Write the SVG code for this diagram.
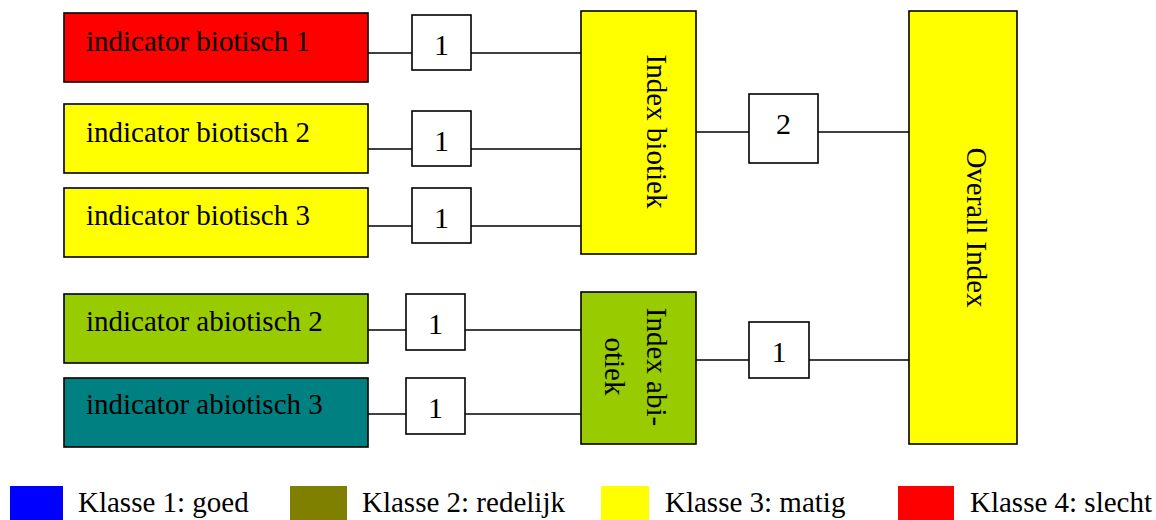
<svg xmlns="http://www.w3.org/2000/svg" width="1156" height="520" viewBox="0 0 1156 520">
<style>
text{font-family:"Liberation Serif","Times New Roman",serif;font-size:29px;fill:#000}
.n{stroke:#000;stroke-width:1.6}
.w{fill:#fff;stroke:#000;stroke-width:1.6}
.c{text-anchor:middle}
.d{font-size:30px;text-anchor:middle}
#connectors line{stroke:#000;stroke-width:1.6}
</style>
<rect width="1156" height="520" fill="#fff"/>
<g id="connectors">
<line x1="368" y1="53" x2="412" y2="53"/><line x1="471" y1="53" x2="581" y2="53"/>
<line x1="368" y1="149" x2="412" y2="149"/><line x1="471" y1="149" x2="581" y2="149"/>
<line x1="368" y1="226" x2="412" y2="226"/><line x1="471" y1="226" x2="581" y2="226"/>
<line x1="368" y1="330" x2="406" y2="330"/><line x1="465" y1="330" x2="581" y2="330"/>
<line x1="368" y1="414" x2="406" y2="414"/><line x1="465" y1="414" x2="581" y2="414"/>
<line x1="696" y1="132" x2="749" y2="132"/><line x1="818" y1="132" x2="909" y2="132"/>
<line x1="696" y1="360" x2="749" y2="360"/><line x1="809" y1="360" x2="909" y2="360"/>
</g>
<g id="bio1"><rect class="n" x="64" y="13" width="304" height="69" fill="#FF0000"/><text x="86" y="50.5">indicator biotisch 1</text></g>
<g id="bio2"><rect class="n" x="64" y="104" width="304" height="69" fill="#FFFF00"/><text x="86" y="142">indicator biotisch 2</text></g>
<g id="bio3"><rect class="n" x="64" y="188" width="304" height="69" fill="#FFFF00"/><text x="86" y="225">indicator biotisch 3</text></g>
<g id="abio2"><rect class="n" x="64" y="294" width="304" height="69" fill="#99CC00"/><text x="86" y="331">indicator abiotisch 2</text></g>
<g id="abio3"><rect class="n" x="64" y="378" width="304" height="69" fill="#008080"/><text x="86" y="414">indicator abiotisch 3</text></g>
<g id="w1"><rect class="w" x="412" y="15" width="59" height="55"/><text class="d" x="441.5" y="54.5">1</text></g>
<g id="w2"><rect class="w" x="412" y="111" width="59" height="55"/><text class="d" x="441.5" y="150.5">1</text></g>
<g id="w3"><rect class="w" x="412" y="188" width="59" height="55"/><text class="d" x="441.5" y="227.5">1</text></g>
<g id="w4"><rect class="w" x="406" y="294" width="59" height="56"/><text class="d" x="435.5" y="334">1</text></g>
<g id="w5"><rect class="w" x="406" y="378" width="59" height="56"/><text class="d" x="435.5" y="417.5">1</text></g>
<g id="w6"><rect class="w" x="749" y="94" width="69" height="69"/><text class="d" x="783.5" y="133.5">2</text></g>
<g id="w7"><rect class="w" x="749" y="322" width="60" height="56"/><text class="d" x="779" y="362">1</text></g>
<g id="indexBiotiek"><rect class="n" x="581" y="11" width="115" height="243" fill="#FFFF00"/><text class="c" transform="translate(647,131.5) rotate(90)">Index biotiek</text></g>
<g id="indexAbiotiek"><rect class="n" x="581" y="292" width="115" height="152" fill="#99CC00"/><text class="c" transform="translate(647,367) rotate(90)">Index abi-</text><text class="c" transform="translate(605,366.5) rotate(90)">otiek</text></g>
<g id="overall"><rect class="n" x="909" y="11" width="108" height="433" fill="#FFFF00"/><text class="c" transform="translate(967,227.5) rotate(90)">Overall Index</text></g>
<g id="legend">
<rect x="10" y="486" width="53" height="34" fill="#0000FF"/><text x="78" y="512">Klasse 1: goed</text>
<rect x="290" y="486" width="57" height="34" fill="#808000"/><text x="362" y="512">Klasse 2: redelijk</text>
<rect x="601" y="486" width="48" height="34" fill="#FFFF00"/><text x="665" y="512">Klasse 3: matig</text>
<rect x="898" y="486" width="56" height="34" fill="#FF0000"/><text x="970" y="512">Klasse 4: slecht</text>
</g>
</svg>
